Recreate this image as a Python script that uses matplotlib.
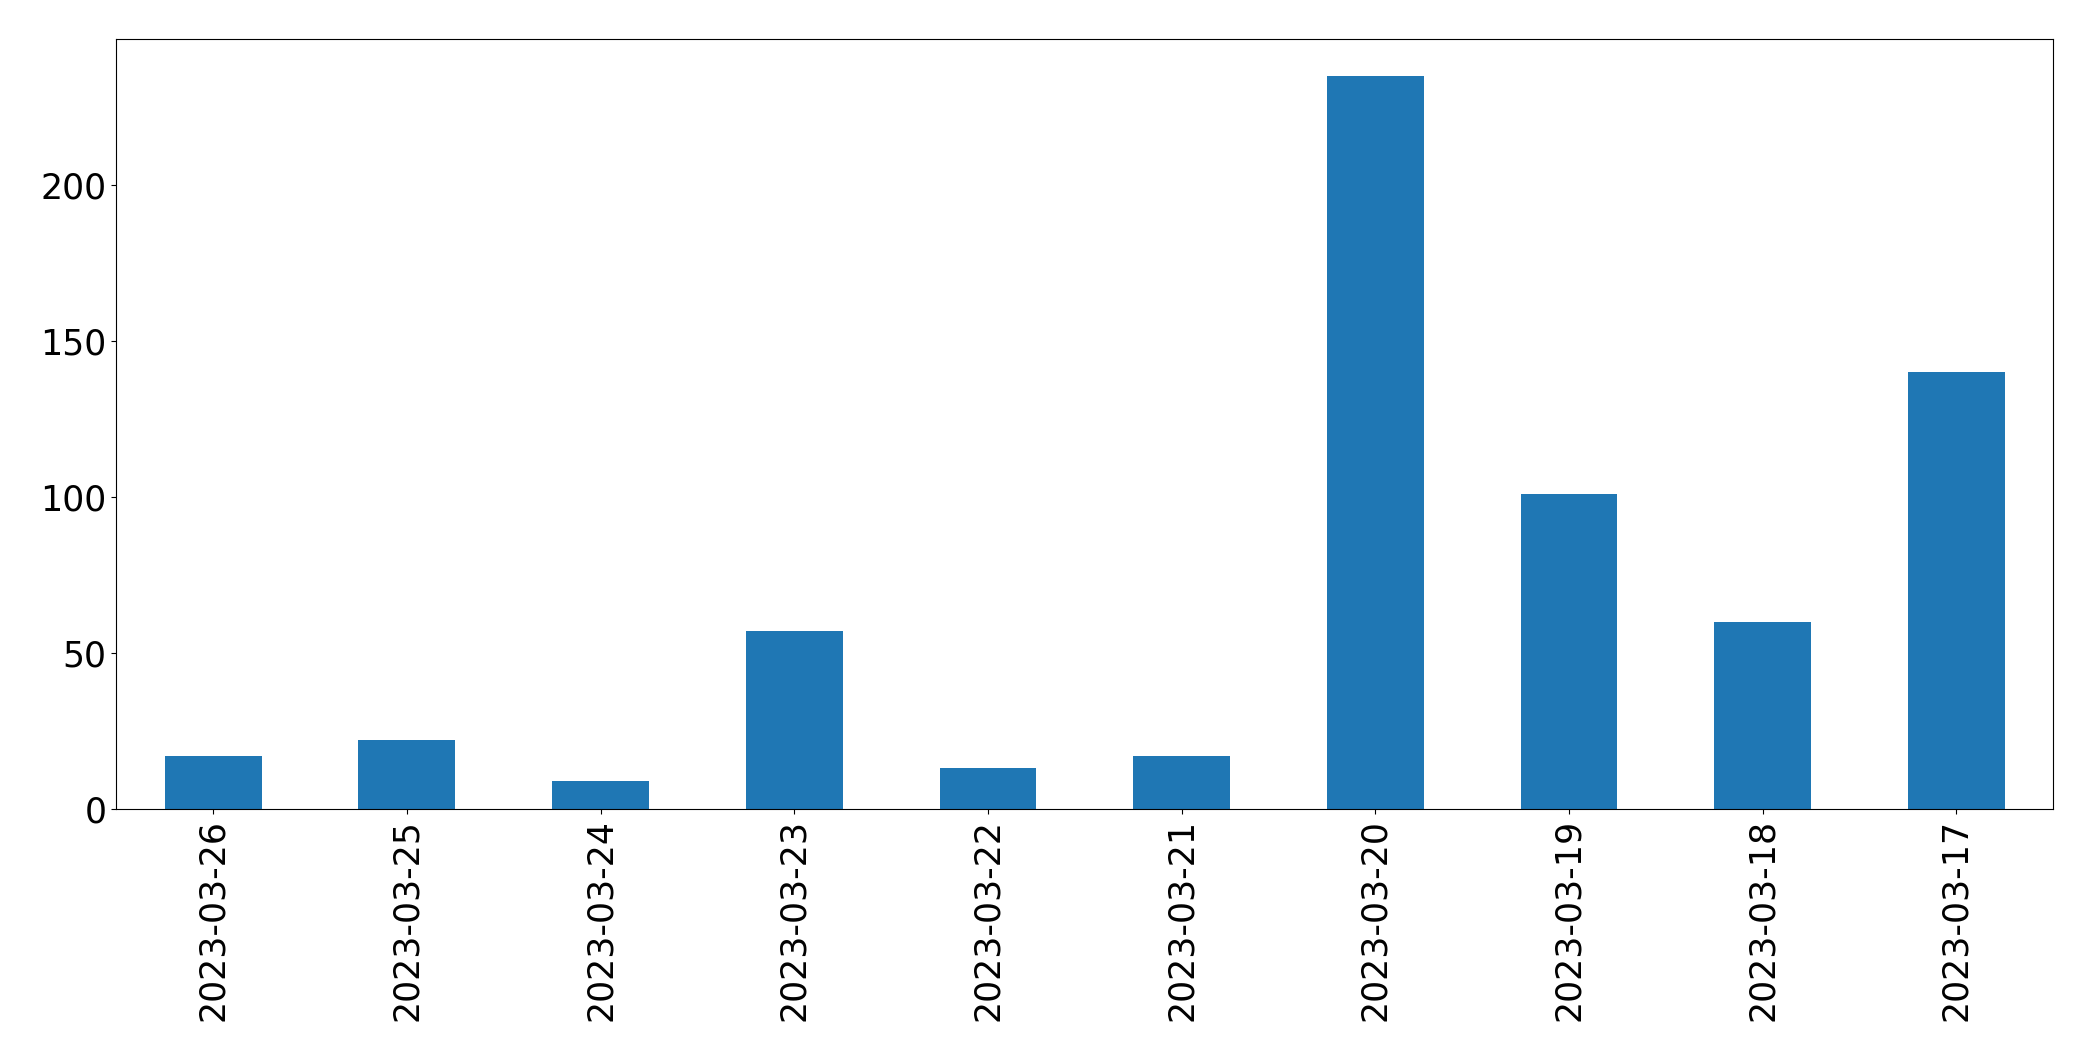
import matplotlib
matplotlib.use("Agg")
from matplotlib import pyplot as plt

dates = ["2023-03-26", "2023-03-25", "2023-03-24", "2023-03-23", "2023-03-22",
         "2023-03-21", "2023-03-20", "2023-03-19", "2023-03-18", "2023-03-17"]
counts = [17, 22, 9, 57, 13, 17, 235, 101, 60, 140]

plt.rcParams['font.size'] = 25

fig = plt.figure(figsize=(20.93, 10.61), dpi=100)
ax = fig.add_axes([0.0556, 0.2375, 0.9254, 0.7254])

x = list(range(len(dates)))
ax.bar(x, counts, width=0.5, color='#1f77b4')
ax.set_xlim(-0.5, len(dates) - 0.5)
ax.set_ylim(0, max(counts) * 1.05)
ax.set_xticks(x)
ax.set_xticklabels(dates, rotation=90)
ax.set_yticks([0, 50, 100, 150, 200])

fig.savefig("out.png", dpi=100)
